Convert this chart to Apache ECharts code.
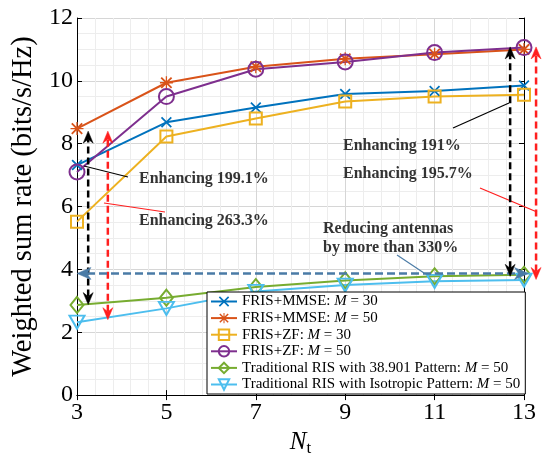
<!DOCTYPE html>
<html>
<head>
<meta charset="utf-8">
<script src="https://cdn.jsdelivr.net/npm/echarts@6/dist/echarts.min.js"></script>
<style>html,body{margin:0;padding:0;background:#fff}#c{width:543px;height:462px}</style>
</head>
<body>
<div id="c"></div>
<script>
// ---- data ----
const nt = [3, 5, 7, 9, 11, 13];
const xTickLabels = ['3', '5', '7', '9', '11', '13'];
const yTickLabels = ['0', '2', '4', '6', '8', '10', '12'];
const seriesNames = [
  'FRIS+MMSE: M = 30',
  'FRIS+MMSE: M = 50',
  'FRIS+ZF: M = 30',
  'FRIS+ZF: M = 50',
  'Traditional RIS with 38.901 Pattern: M = 50',
  'Traditional RIS with Isotropic Pattern: M = 50'
];
const frisMmse30 = [7.32, 8.68, 9.15, 9.58, 9.68, 9.85];
const frisMmse50 = [8.48, 9.94, 10.45, 10.7, 10.85, 11.0];
const frisZf30 = [5.52, 8.23, 8.8, 9.34, 9.5, 9.56];
const frisZf50 = [7.1, 9.5, 10.37, 10.6, 10.9, 11.06];
const trad38901 = [2.87, 3.1, 3.44, 3.65, 3.78, 3.83];
const tradIso = [2.32, 2.76, 3.3, 3.5, 3.62, 3.66];
const annotationTexts = ['Enhancing 199.1%', 'Enhancing 263.3%', 'Enhancing 191%', 'Enhancing 195.7%', 'Reducing antennas', 'by more than 330%'];
// arrows in data coordinates: [x1, y1, x2, y2]
const arrowBlackLeft = [3.25, 2.88, 3.25, 8.4];
const arrowRedLeft = [3.69, 2.4, 3.69, 8.4];
const arrowBlackRight = [12.69, 3.78, 12.69, 11.08];
const arrowRedRight = [13.27, 3.68, 13.27, 11.08];
const reduceLine = [3.0, 3.87, 13.1, 3.87];

const colors = ['#0072BD', '#D95319', '#EDB120', '#7E2F8E', '#77AC30', '#4DBEEE'];
const serif = '"Liberation Serif","Times New Roman",serif';

const xPath = 'path://M1,3 L3,1 L19,17 L17,19 Z M17,1 L19,3 L3,19 L1,17 Z';
const starPath = 'path://M1,3 L3,1 L19,17 L17,19 Z M17,1 L19,3 L3,19 L1,17 Z M9,0 L11,0 L11,20 L9,20 Z M0,9 L20,9 L20,11 L0,11 Z';
const triDown = 'path://M0,0 L20,0 L10,17 Z';

const valueSets = [frisMmse30, frisMmse50, frisZf30, frisZf50, trad38901, tradIso];
const symbols = [xPath, starPath, 'rect', 'circle', 'diamond', triDown];
const symSizes = [11, 13, 12, 15, [13, 16], [15, 13]];
const filled = [true, true, false, false, false, false];

const series = valueSets.map((vals, i) => ({
  name: seriesNames[i],
  type: 'line',
  data: nt.map((x, j) => [x, vals[j]]),
  symbol: symbols[i],
  symbolSize: symSizes[i],
  showAllSymbol: true,
  clip: false,
  lineStyle: { color: colors[i], width: 2 },
  itemStyle: filled[i]
    ? { color: colors[i], borderWidth: 0 }
    : { color: 'rgba(255,255,255,0)', borderColor: colors[i], borderWidth: 2 },
  emphasis: { disabled: true },
  z: 3
}));

const chart = echarts.init(document.getElementById('c'), null, { renderer: 'canvas' });

const axisCommon = {
  axisLine: { show: true, lineStyle: { color: '#000', width: 1 } },
  axisTick: { show: true, inside: true, length: 5, lineStyle: { color: '#000' } },
  minorTick: { show: false },
};

chart.setOption({
  animation: false,
  backgroundColor: '#fff',
  grid: { left: 77, right: 19, top: 18, bottom: 66 },
  legend: {
    orient: 'vertical',
    left: 207, top: 292,
    itemWidth: 26, itemHeight: 13, itemGap: 1.6,
    padding: [2, 5, 2, 3],
    backgroundColor: '#fff',
    borderColor: '#000', borderWidth: 1, borderRadius: 0,
    data: seriesNames,
    formatter: function (name) {
      const k = name.indexOf('M = ');
      return '{n|' + name.slice(0, k) + '}{i|M}{n| = ' + name.slice(k + 4) + '}';
    },
    textStyle: {
      fontFamily: serif, fontSize: 15, color: '#000',
      rich: {
        n: { fontFamily: serif, fontSize: 15, color: '#000' },
        i: { fontFamily: serif, fontSize: 15, fontStyle: 'italic', color: '#000' }
      }
    }
  },
  xAxis: [
    Object.assign({}, axisCommon, {
      type: 'value', min: 3, max: 13, interval: 2,
      name: '{i|N}{s|t}', nameLocation: 'middle', nameGap: 32,
      nameTextStyle: {
        rich: {
          i: { fontFamily: serif, fontSize: 25, fontStyle: 'italic', color: '#000' },
          s: { fontFamily: serif, fontSize: 17, color: '#000', padding: [12, 0, 0, 0] }
        }
      },
      axisLabel: {
        fontFamily: serif, fontSize: 24, color: '#000', margin: 6,
        formatter: v => xTickLabels[nt.indexOf(v)] || ''
      },
      splitLine: { show: true, lineStyle: { color: '#d6d6d6', width: 1 } },
      minorTick: { show: false, splitNumber: 5 },
      minorSplitLine: { show: true, lineStyle: { color: '#ededed', width: 1 } }
    }),
    Object.assign({}, axisCommon, {
      type: 'value', min: 3, max: 13, interval: 2, position: 'top',
      axisLabel: { show: false }, splitLine: { show: false }
    })
  ],
  yAxis: [
    Object.assign({}, axisCommon, {
      type: 'value', min: 0, max: 12, interval: 2,
      name: 'Weighted sum rate (bits/s/Hz)', nameLocation: 'middle', nameGap: 37,
      nameTextStyle: { fontFamily: serif, fontSize: 28.5, color: '#000' },
      axisLabel: {
        fontFamily: serif, fontSize: 24, color: '#000', margin: 4,
        formatter: v => yTickLabels[v / 2] || ''
      },
      splitLine: { show: true, lineStyle: { color: '#d6d6d6', width: 1 } },
      minorTick: { show: false, splitNumber: 4 },
      minorSplitLine: { show: true, lineStyle: { color: '#ededed', width: 1 } }
    }),
    Object.assign({}, axisCommon, {
      type: 'value', min: 0, max: 12, interval: 2, position: 'right',
      axisLabel: { show: false }, splitLine: { show: false }
    })
  ],
  series: series
});

// ---- annotations (positions converted through the chart's scales) ----
function px(x, y) { return chart.convertToPixel({ xAxisIndex: 0, yAxisIndex: 0 }, [x, y]); }

function head(tip, from, color, L, W) {
  const dx = tip[0] - from[0], dy = tip[1] - from[1];
  const len = Math.hypot(dx, dy); const ux = dx / len, uy = dy / len;
  const nx = -uy, ny = ux;
  const bx = tip[0] - ux * L, by = tip[1] - uy * L;
  const mx = tip[0] - ux * (L - 4), my = tip[1] - uy * (L - 4);
  return {
    type: 'polygon', z: 50,
    shape: { points: [tip, [bx + nx * W, by + ny * W], [mx, my], [bx - nx * W, by - ny * W]] },
    style: { fill: color, stroke: color, lineWidth: 0.5 }
  };
}

function dblArrow(a, color, dash, width, L, W) {
  const p1 = px(a[0], a[1]), p2 = px(a[2], a[3]);
  const dx = p2[0] - p1[0], dy = p2[1] - p1[1];
  const len = Math.hypot(dx, dy); const ux = dx / len, uy = dy / len;
  const s = [p1[0] + ux * (L - 4), p1[1] + uy * (L - 4)];
  const e = [p2[0] - ux * (L - 4), p2[1] - uy * (L - 4)];
  return [
    { type: 'line', z: 49, shape: { x1: s[0], y1: s[1], x2: e[0], y2: e[1] },
      style: { stroke: color, lineWidth: width, lineDash: dash } },
    head(p1, p2, color, L, W),
    head(p2, p1, color, L, W)
  ];
}

function seg(x1, y1, x2, y2, color) {
  return { type: 'line', z: 48, shape: { x1: x1, y1: y1, x2: x2, y2: y2 }, style: { stroke: color, lineWidth: 1.2 } };
}
function txt(s, x, y) {
  return { type: 'text', z: 60, x: x, y: y,
    style: { text: s, fontFamily: serif, fontSize: 16, fontWeight: 'bold', fill: '#333', textVerticalAlign: 'middle', verticalAlign: 'middle' } };
}

const g = [];
g.push(...dblArrow(arrowBlackLeft, '#000', [7, 4], 2.5, 12, 5));
g.push(...dblArrow(arrowRedLeft, '#ff1f1f', [7, 4], 2.5, 12, 5));
g.push(...dblArrow(arrowBlackRight, '#000', [7, 4], 2.5, 12, 5));
g.push(...dblArrow(arrowRedRight, '#ff1f1f', [7, 4], 2.5, 12, 5));
g.push(...dblArrow(reduceLine, '#4a7ba6', [8, 4], 2.5, 14, 6));
g.push(seg(84, 166, 128, 177, '#000'));
g.push(seg(104, 203, 165, 212, '#ff1f1f'));
g.push(seg(453, 128, 509, 103, '#000'));
g.push(seg(480, 188, 537, 212, '#ff1f1f'));
g.push(seg(397, 255, 424, 273, '#4a7ba6'));
g.push(txt(annotationTexts[0], 139, 179));
g.push(txt(annotationTexts[1], 139, 221));
g.push(txt(annotationTexts[2], 343, 146));
g.push(txt(annotationTexts[3], 343, 174));
g.push(txt(annotationTexts[4], 323, 229));
g.push(txt(annotationTexts[5], 323, 248));
chart.setOption({ graphic: g });
</script>
</body>
</html>
